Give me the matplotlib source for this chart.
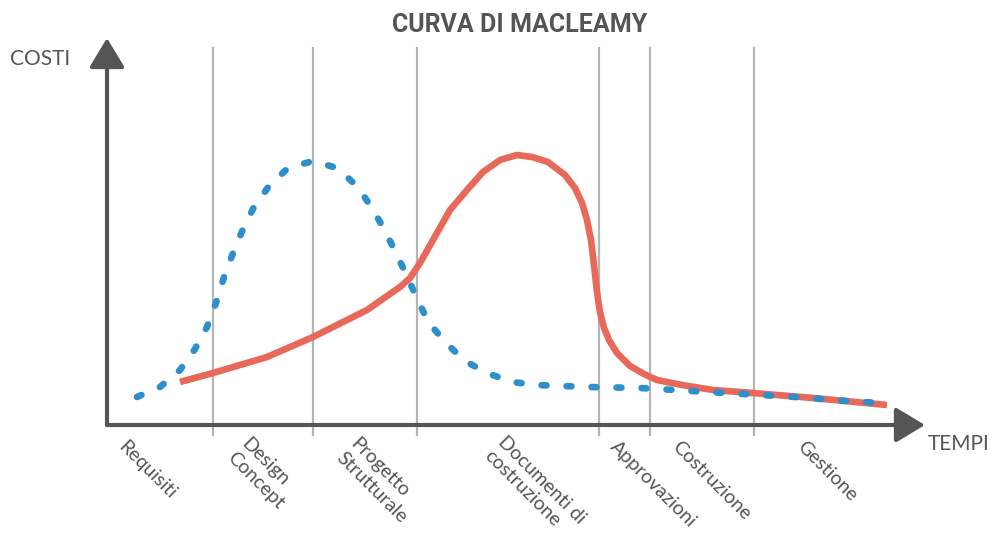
import matplotlib
matplotlib.use("Agg")
import matplotlib.pyplot as plt

plt.rcParams['font.family'] = ['Lato', 'DejaVu Sans']
plt.rcParams['lines.scale_dashes'] = False

# phases along the time axis (label, boundary where the phase ends)
phases = ["Requisiti", "Design\nConcept", "Progetto\nStrutturale",
          "Documenti di\ncostruzione", "Approvazioni", "Costruzione", "Gestione"]
label_x = [20, 143, 252, 400, 512, 574, 699]
label_y = [-13, -10, -10, -8, -13, -13, -13]
boundaries = [106, 206, 310, 492, 543, 647]

# blue dotted curve (ability to impact cost)
blue_x = [30, 53, 73, 88, 100, 109, 117, 126, 136, 147, 162, 181, 206, 230,
          250, 265, 277, 289, 300, 311, 322, 339, 358, 380, 405, 430, 481,
          533, 585, 636, 688, 740, 773]
blue_y = [28, 38, 55, 76, 98, 122, 148, 172, 196, 218, 239, 257, 264, 257,
          239, 217, 196, 172, 149, 124, 102, 82, 64, 52, 43, 40, 38,
          37, 34, 31, 28, 24, 22]

# red curve (cost of changes / effort)
red_x = [73, 106, 160, 206, 260, 293, 303, 313, 326, 343, 360, 376, 393, 410,
         425, 441, 458, 468, 475, 480, 484, 487, 490, 493, 497, 502, 510, 523,
         537, 550, 575, 606, 646, 706, 780]
red_y = [43, 52, 68, 88, 115, 138, 147, 162, 185, 215, 235, 253, 265, 270,
         268, 263, 250, 237, 222, 205, 185, 160, 133, 113, 97, 85, 72, 59,
         51, 45, 40, 35, 32, 27, 20]

gray = '#555555'
fig = plt.figure(figsize=(9.92, 5.34), dpi=100)
ax = fig.add_axes([107 / 992, (534 - 425) / 534, 818 / 992, 387 / 534])
ax.set_xlim(0, 818)
ax.set_ylim(0, 387)
ax.axis('off')

# phase separators
for b in boundaries:
    ax.plot([b, b], [-10, 377], color='#b5b5b5', lw=1.6, clip_on=False, zorder=1)

# curves
ax.plot(blue_x, blue_y, color='#2f8fcb', lw=4.8, linestyle=(0, (3.5, 14.5)),
        dash_capstyle='round', clip_on=False, zorder=3)
ax.plot(red_x, red_y, color='#e8695a', lw=4.8, solid_capstyle='butt',
        solid_joinstyle='round', clip_on=False, zorder=2)

# axes with arrows
arrow = dict(arrowstyle='-|>,head_length=1.0,head_width=0.6', lw=3, color=gray,
             shrinkA=0, shrinkB=0, mutation_scale=18)
ax.annotate('', xy=(0, 387), xytext=(0, 0), arrowprops=arrow, annotation_clip=False)
ax.annotate('', xy=(818, 0), xytext=(0, 0), arrowprops=arrow, annotation_clip=False)

# phase labels
for name, lx, ly in zip(phases, label_x, label_y):
    ax.text(lx, ly, name, rotation=-45, rotation_mode='anchor', ha='left',
            va='top', fontsize=14, color=gray, linespacing=1.2, clip_on=False)

ax.text(-97, 366, "COSTI", fontsize=15, color=gray, ha='left', va='center')
ax.text(821, -19, "TEMPI", fontsize=15, color=gray, ha='left', va='center')
fig.text(520 / 992, 1 - 25 / 534, "CURVA DI MACLEAMY", fontsize=18,
         fontweight='bold', family=['Roboto', 'DejaVu Sans'], color=gray,
         ha='center', va='center')

fig.savefig("out.png", dpi=100, facecolor='white')
